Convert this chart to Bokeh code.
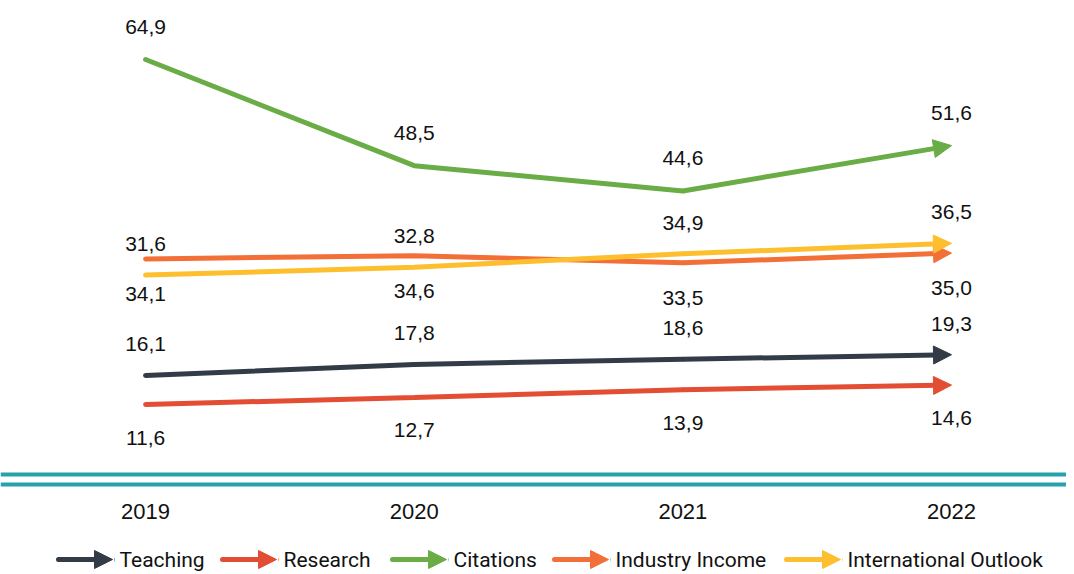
from bokeh.plotting import figure
from bokeh.models import Arrow, NormalHead, Span, FixedTicker, Range1d
from bokeh.layouts import column
from bokeh.embed import file_html
from bokeh.resources import INLINE
from bokeh.core.properties import value

# ---- data ----
years = [2019, 2020, 2021, 2022]
year_labels = ["2019", "2020", "2021", "2022"]
teaching = [16.1, 17.8, 18.6, 19.3]
research = [11.6, 12.7, 13.9, 14.6]
citations = [64.9, 48.5, 44.6, 51.6]
industry_income = [34.1, 34.6, 33.5, 35.0]
international_outlook = [31.6, 32.8, 34.9, 36.5]
series_names = ["Teaching", "Research", "Citations", "Industry Income", "International Outlook"]

series_values = {
    "Teaching": teaching,
    "Research": research,
    "Citations": citations,
    "Industry Income": industry_income,
    "International Outlook": international_outlook,
}
colors = {
    "Teaching": "#323b46",
    "Research": "#e24d33",
    "Citations": "#6aac45",
    "Industry Income": "#f36f38",
    "International Outlook": "#fdbf2d",
}
# vertical offset of value labels (screen px, + is down)
label_offsets = {
    "Teaching": -31,
    "Research": 33,
    "Citations": -33,
    "Industry Income": 35,
    "International Outlook": -31,
}
TEAL = "#27a2ab"
NUM_FONT = value("Liberation Sans")
LEG_FONT = value("Roboto")

W = 1066
p = figure(width=W, height=545,
           x_range=Range1d(2018.460, 2022.428),
           y_range=Range1d(-1.68, 74.02),
           output_backend="svg", toolbar_location=None,
           y_axis_location=None,
           min_border_left=0, min_border_right=0, min_border_top=0,
           min_border_bottom=55)
p.xgrid.visible = False
p.ygrid.visible = False
p.outline_line_color = None

ax = p.xaxis[0]
ax.ticker = FixedTicker(ticks=years)
ax.major_label_overrides = {y: l for y, l in zip(years, year_labels)}
ax.axis_line_color = None
ax.major_tick_line_color = None
ax.minor_tick_line_color = None
ax.major_label_text_font = "Liberation Sans"
ax.major_label_text_font_size = "22px"
ax.major_label_text_color = "#111111"
ax.major_label_standoff = 7

for loc in (0.79, -0.76):
    p.add_layout(Span(location=loc, dimension="width", line_color=TEAL, line_width=4))


def fmt(v):
    return f"{v:.1f}".replace(".", ",")


for name in series_names:
    vals = series_values[name]
    c = colors[name]
    p.line(years[:-1], vals[:-1], line_width=5, line_color=c, line_cap="round")
    p.add_layout(Arrow(end=NormalHead(size=18, fill_color=c, line_color=c, line_width=1),
                       x_start=years[-2], y_start=vals[-2],
                       x_end=years[-1], y_end=vals[-1],
                       line_color=c, line_width=5))

for name in series_names:
    vals = series_values[name]
    p.text(x=years, y=vals, text=[fmt(v) for v in vals],
           y_offset=label_offsets[name], text_align="center", text_baseline="middle",
           text_font=NUM_FONT, text_font_size="21px", text_color="#111111")

# ---- legend (arrows + names) ----
LH = 27
leg = figure(width=W, height=LH, x_range=Range1d(0, W), y_range=Range1d(0, LH),
             output_backend="svg", toolbar_location=None,
             x_axis_location=None, y_axis_location=None,
             min_border_left=0, min_border_right=0, min_border_top=0, min_border_bottom=0)
leg.xgrid.visible = False
leg.ygrid.visible = False
leg.outline_line_color = None

text_starts = [119, 283, 453, 615, 847]
ly = 13
for name, tx in zip(series_names, text_starts):
    c = colors[name]
    leg.add_layout(Arrow(end=NormalHead(size=18, fill_color=c, line_color=c, line_width=1),
                         x_start=tx - 61, y_start=ly, x_end=tx - 7, y_end=ly,
                         line_color=c, line_width=5, line_cap="round"))
leg.text(x=text_starts, y=[ly] * len(text_starts), text=series_names,
         text_align="left", text_baseline="middle",
         text_font=LEG_FONT, text_font_size="21px", text_color="#111111")

layout = column(p, leg)
open("out.html", "w").write(file_html(layout, INLINE))
